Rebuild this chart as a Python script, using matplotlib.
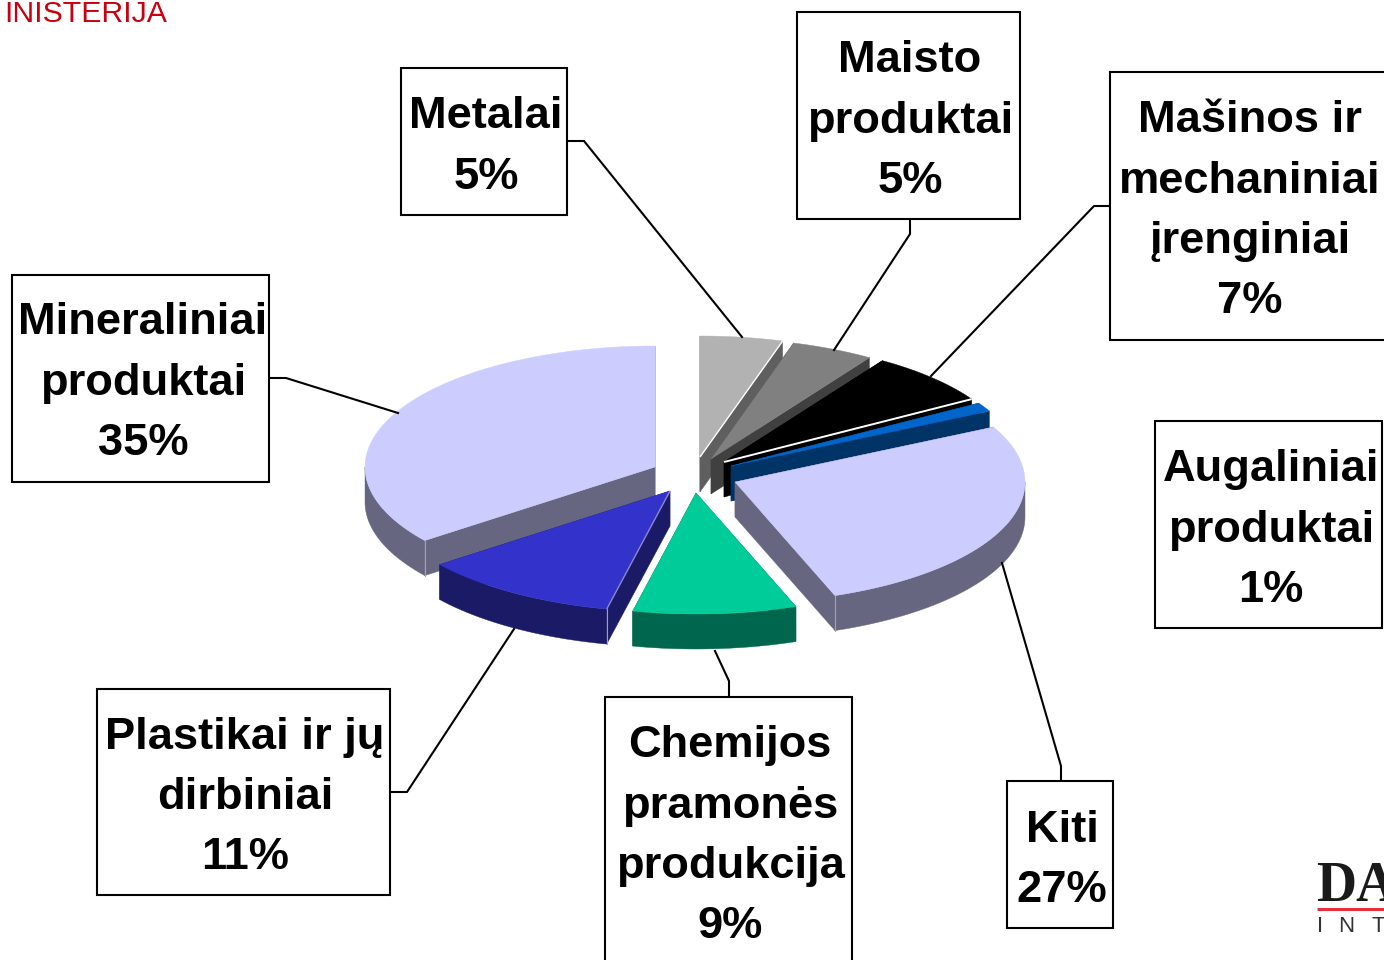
import numpy as np
import matplotlib
matplotlib.use("Agg")
import matplotlib.pyplot as plt
from matplotlib.patches import Polygon, Rectangle

# ---- data ----
categories = ["Metalai", "Maisto\nproduktai", "Mašinos ir\nmechaniniai\nįrenginiai",
              "Augaliniai\nproduktai", "Kiti", "Chemijos\npramonės\nprodukcija",
              "Plastikai ir jų\ndirbiniai", "Mineraliniai\nproduktai"]
shares = [4.6, 4.6, 7.1, 1.2, 26.9, 9.1, 11.1, 35.4]

# ---- style / layout (pixel coordinates of the 1384x960 figure) ----
top_colors = ["#B2B2B2", "#808080", "#000000", "#0066CC", "#CCCCFF", "#00CC99", "#3333CC", "#CCCCFF"]
wall_colors = ["#5F5F5F", "#404040", "#000000", "#003366", "#666680", "#00664E", "#1A1A66", "#666680"]
apexes = [(700, 457), (711, 459), (724, 462), (731, 466), (735, 482), (696, 493), (670, 491), (655, 467)]
edge_highlight = [("#FFFFFF", -1), None, ("#FFFFFF", -1), None, None, None, ("#8888CC", 0), None]
corner_highlight = [None, None, None, None, -1, None, 0, 0]
RX, RY, DEPTH = 290, 121, 35
draw_order = [7, 0, 1, 2, 3, 4, 6, 5]

boxes = [(401, 68, 567, 215), (797, 12, 1020, 219), (1110, 72, 1400, 340), (1155, 421, 1382, 628),
         (1007, 781, 1113, 928), (605, 697, 852, 985), (97, 689, 390, 895), (12, 275, 269, 482)]
text_x = [486, 910, 1250, 1271, 1062, 730, 245, 143]
first_baseline = [128.5, 72.5, 132.5, 481.5, 841.5, 757.5, 748.5, 334.5]
LINE_STEP = 60.3
leaders = [[(567, 141), (584, 141), (742, 337)],
           [(910, 219), (910, 234), (834, 350)],
           [(1110, 206), (1094, 206), (931, 376)],
           None,
           [(1061, 781), (1061, 766), (1002, 563)],
           [(729, 697), (729, 681), (715, 651)],
           [(390, 792), (407, 792), (514, 629)],
           [(269, 378), (286, 378), (398, 413)]]

fig = plt.figure(figsize=(13.84, 9.6), dpi=100, facecolor="white")
ax = fig.add_axes([0, 0, 1, 1])
ax.set_xlim(0, 1384)
ax.set_ylim(960, 0)
ax.axis("off")


def rim(apex, a0, a1, n=80):
    t = np.radians(np.linspace(a0, a1, n))
    return np.column_stack([apex[0] + RX * np.sin(t), apex[1] - RY * np.cos(t)])


edges = np.concatenate([[0], np.cumsum(shares)]) * 3.6
down = np.array([0, DEPTH])

for i in draw_order:
    a0, a1 = edges[i], edges[i + 1]
    apex = np.array(apexes[i], float)
    arc = rim(apex, a0, a1)
    # cut faces
    for p in (arc[0], arc[-1]):
        wall = [apex, p, p + down, apex + down]
        ax.add_patch(Polygon(wall, closed=True, fc=wall_colors[i], ec=wall_colors[i], lw=0.3, zorder=2))
    # outer wall on the front half
    lo, hi = max(a0, 90), min(a1, 270)
    if hi > lo:
        front = rim(apex, lo, hi)
        ax.add_patch(Polygon(np.vstack([front, (front + down)[::-1]]), closed=True,
                             fc=wall_colors[i], ec=wall_colors[i], lw=0.3, zorder=2))
    ax.add_patch(Polygon(np.vstack([apex, arc]), closed=True, fc=top_colors[i],
                         ec=top_colors[i], lw=0.3, zorder=2))
    if edge_highlight[i]:
        col, end = edge_highlight[i]
        p = arc[end]
        ax.plot([apex[0], p[0]], [apex[1], p[1]], color=col,
                lw=1.0 if i != 2 else 1.4, zorder=2, solid_capstyle="butt")
    if corner_highlight[i] is not None:
        p = arc[corner_highlight[i]]
        ax.plot([p[0], p[0]], [p[1], p[1] + DEPTH], color="#A0A0B8", lw=0.8, zorder=2)

# leader lines
for pts in leaders:
    if pts:
        xs, ys = zip(*pts)
        ax.plot(xs, ys, color="black", lw=1.5, zorder=3, solid_joinstyle="miter")

# label boxes and text
for i, (name, share) in enumerate(zip(categories, shares)):
    x0, y0, x1, y1 = boxes[i]
    ax.add_patch(Rectangle((x0, y0), x1 - x0, y1 - y0, fc="white", ec="black", lw=1.5, zorder=4))
    lines = name.split("\n") + [f"{share:.0f}%"]
    for k, line in enumerate(lines):
        ax.text(text_x[i], first_baseline[i] + k * LINE_STEP, line, ha="center", va="baseline",
                family="Liberation Sans", weight="bold", fontsize=32.6, color="black", zorder=5)

# header and logo fragments
ax.text(4, 22, "INISTERIJA", family="Liberation Sans", fontsize=21.8,
        color="#C8000F", ha="left", va="baseline", zorder=5)
ax.text(1316, 901, "DA", family="Liberation Serif", weight="bold", fontsize=40, color="#1A1A1A",
        ha="left", va="baseline", zorder=5, clip_on=True)
ax.plot([1317, 1384], [909, 909], color="#E8303A", lw=2.2, zorder=5, solid_capstyle="butt")
for ch, x in zip("INT", [1317, 1338, 1371]):
    ax.text(x, 932, ch, family="Liberation Sans", fontsize=16, color="#333333",
            ha="left", va="baseline", zorder=5, clip_on=True)

fig.savefig("out.png", dpi=100, facecolor="white")
